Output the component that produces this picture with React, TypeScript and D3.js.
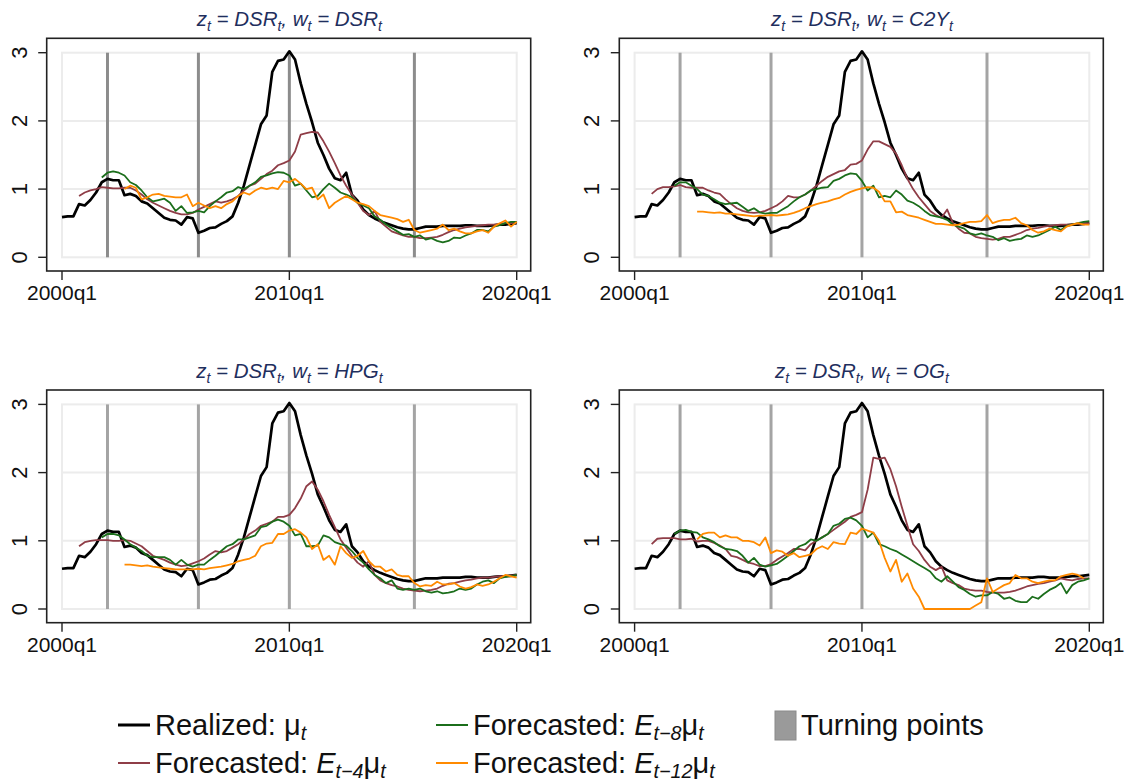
import React from "react";
import * as d3 from "d3";

// quarters 0..80 = 2000q1 .. 2020q1
const quarters = d3.range(0, 81);
const xTickQ = [0, 40, 80];
const xTickLabels = ["2000q1", "2010q1", "2020q1"];
const yTicks = [0, 1, 2, 3];
// 2002q1, 2006q1, 2010q1, 2015q3
const turningPoints = [8, 24, 40, 62];

const realized = [
  0.59, 0.6, 0.6, 0.78, 0.76, 0.84, 0.95, 1.1, 1.15, 1.13,
  1.13, 0.91, 0.93, 0.9, 0.82, 0.79, 0.72, 0.65, 0.58, 0.55,
  0.54, 0.48, 0.59, 0.57, 0.36, 0.39, 0.43, 0.44, 0.49, 0.53,
  0.6, 0.8, 1.05, 1.35, 1.65, 1.95, 2.08, 2.72, 2.88, 2.9,
  3.02, 2.9, 2.55, 2.25, 1.98, 1.68, 1.5, 1.3, 1.16, 1.13,
  1.24, 0.92, 0.83, 0.7, 0.62, 0.57, 0.53, 0.5, 0.47, 0.44,
  0.42, 0.41, 0.41, 0.43, 0.45, 0.45, 0.45, 0.46, 0.46, 0.46,
  0.46, 0.47, 0.47, 0.46, 0.46, 0.46, 0.47, 0.48, 0.48, 0.49, 0.5,
];

// first available quarter of each forecast horizon
const startH4 = 3;
const startH8 = 7;
const startH12 = 11;

// w = DSR
const dsrH4 = [
  0.9, 0.95, 0.98, 1.0, 1.03, 1.02, 1.01, 1.01, 1.02, 1.02,
  0.98, 0.92, 0.85, 0.8, 0.76, 0.72, 0.68, 0.65, 0.63, 0.63,
  0.65, 0.7, 0.74, 0.78, 0.82, 0.8, 0.82, 0.85, 0.9, 0.98,
  1.05, 1.08, 1.15, 1.22, 1.27, 1.35, 1.38, 1.42, 1.55, 1.8,
  1.82, 1.84, 1.83, 1.7, 1.55, 1.38, 1.2, 1.05, 0.92, 0.8,
  0.68, 0.62, 0.68, 0.52, 0.45, 0.38, 0.35, 0.32, 0.3, 0.3,
  0.28, 0.28, 0.29, 0.3, 0.33, 0.37, 0.4, 0.42, 0.44, 0.45,
  0.46, 0.47, 0.48, 0.48, 0.49, 0.5, 0.5, 0.51,
];
const dsrH8 = [
  1.17, 1.24, 1.26, 1.24, 1.2, 1.1, 1.06, 0.98, 0.88, 0.82,
  0.84, 0.86, 0.8, 0.68, 0.75, 0.65, 0.66, 0.68, 0.66, 0.75,
  0.82, 0.88, 0.95, 0.97, 1.03, 1.0, 1.05, 1.1, 1.18, 1.2,
  1.23, 1.25, 1.24, 1.2, 1.05, 1.08, 0.98, 0.88, 0.9, 1.0,
  1.08, 1.02, 0.95, 0.92, 0.88, 0.8, 0.76, 0.72, 0.6, 0.55,
  0.48, 0.43, 0.38, 0.33, 0.34, 0.3, 0.32, 0.26, 0.28, 0.24,
  0.22, 0.24, 0.29, 0.28, 0.32, 0.35, 0.4, 0.4, 0.38, 0.45,
  0.47, 0.5, 0.52, 0.52,
];
const dsrH12 = [
  1.0, 1.05, 1.02, 0.85, 0.88, 0.92, 0.93, 0.9, 0.89, 0.88,
  0.88, 0.92, 0.75, 0.8, 0.76, 0.72, 0.75, 0.72, 0.78, 0.82,
  0.9, 0.95, 0.92, 0.98, 1.02, 1.0, 1.02, 1.0, 1.12, 1.1,
  1.15, 1.08, 1.0, 1.02, 0.85, 0.92, 0.72, 0.8, 0.85, 0.9,
  0.85, 0.8, 0.78, 0.75, 0.68, 0.62, 0.6, 0.58, 0.56, 0.52,
  0.55, 0.4, 0.36, 0.38, 0.4, 0.42, 0.48, 0.4, 0.42, 0.38,
  0.35, 0.35, 0.38, 0.4, 0.36, 0.45, 0.5, 0.54, 0.45, 0.52,
];

// w = C2Y
const c2yH4 = [
  0.93, 1.0, 1.03, 1.03, 1.04, 1.06, 1.03, 1.02, 1.02, 1.02,
  0.98, 0.95, 0.93, 0.85, 0.78, 0.72, 0.68, 0.66, 0.65, 0.66,
  0.68, 0.72, 0.76, 0.82, 0.9, 0.88, 0.88, 0.92, 0.98, 1.05,
  1.12, 1.18, 1.22, 1.26, 1.28, 1.36, 1.37, 1.42, 1.58, 1.7,
  1.7, 1.66, 1.62, 1.52, 1.35, 1.15, 1.0, 0.88, 0.78, 0.68,
  0.62, 0.58, 0.7, 0.5, 0.42, 0.36, 0.35, 0.3, 0.28, 0.27,
  0.26, 0.27, 0.3, 0.3, 0.33, 0.36, 0.4, 0.42, 0.43, 0.45,
  0.46, 0.47, 0.48, 0.48, 0.48, 0.49, 0.5, 0.5,
];
const c2yH8 = [
  1.05, 1.1, 1.1, 1.05, 1.0, 0.92, 0.9, 0.85, 0.8, 0.78,
  0.79, 0.8, 0.74, 0.68, 0.72, 0.66, 0.64, 0.65, 0.65, 0.7,
  0.75, 0.82, 0.88, 0.92, 0.98, 1.0, 1.02, 1.03, 1.12, 1.15,
  1.2, 1.23, 1.22, 1.12, 0.98, 1.05, 0.88, 0.9, 0.88, 0.98,
  0.92, 0.83, 0.8, 0.75, 0.68, 0.62, 0.6, 0.58, 0.55, 0.48,
  0.45, 0.42, 0.35, 0.33, 0.35, 0.32, 0.3, 0.25, 0.28, 0.24,
  0.26, 0.27, 0.32, 0.3, 0.32, 0.36, 0.4, 0.45, 0.4, 0.46,
  0.48, 0.5, 0.52, 0.53,
];
const c2yH12 = [
  0.67, 0.67, 0.66, 0.65, 0.66, 0.64, 0.64, 0.63, 0.62, 0.61,
  0.6, 0.61, 0.61, 0.62, 0.61, 0.62, 0.63, 0.65, 0.68, 0.72,
  0.75, 0.78, 0.8, 0.82, 0.85, 0.87, 0.92, 0.96, 0.99, 1.01,
  1.03, 1.02, 0.96, 0.82, 0.82, 0.66, 0.67, 0.62, 0.6, 0.58,
  0.55, 0.52, 0.49, 0.49, 0.48, 0.47, 0.48, 0.5, 0.52, 0.52,
  0.53, 0.62, 0.5, 0.53, 0.55, 0.55, 0.58, 0.5, 0.47, 0.4,
  0.36, 0.38, 0.42, 0.4, 0.38, 0.45, 0.48, 0.5, 0.48, 0.48,
];

// w = HPG
const hpgH4 = [
  0.92, 0.98, 1.0, 1.01, 1.01, 1.01, 1.0, 1.0, 1.01, 1.0,
  0.96, 0.92, 0.85, 0.78, 0.75, 0.72, 0.68, 0.65, 0.63, 0.64,
  0.67, 0.7, 0.74, 0.8, 0.85, 0.83, 0.85, 0.9, 0.95, 1.02,
  1.1, 1.15, 1.22, 1.25, 1.28, 1.35, 1.35, 1.38, 1.48, 1.62,
  1.8, 1.87, 1.75, 1.58, 1.38, 1.2, 1.02, 0.9, 0.78, 0.68,
  0.62, 0.7, 0.5, 0.42, 0.38, 0.35, 0.33, 0.3, 0.28, 0.27,
  0.26, 0.27, 0.28, 0.3, 0.34, 0.37, 0.38, 0.4, 0.42, 0.43,
  0.45, 0.46, 0.46, 0.47, 0.48, 0.48, 0.49, 0.5,
];
const hpgH8 = [
  1.05, 1.1, 1.1, 1.08, 1.02, 0.95, 0.9, 0.85, 0.78, 0.76,
  0.76, 0.76, 0.72, 0.65, 0.72, 0.65, 0.62, 0.65, 0.65, 0.72,
  0.78, 0.85, 0.92, 0.95, 1.02, 1.02, 1.05, 1.08, 1.2, 1.22,
  1.28, 1.31, 1.28, 1.22, 1.08, 1.1, 0.92, 0.92, 0.93, 1.08,
  1.05, 0.98, 0.95, 0.93, 0.85, 0.75, 0.68, 0.58, 0.5, 0.45,
  0.38, 0.42, 0.3, 0.28, 0.3, 0.28, 0.3, 0.26, 0.24, 0.26,
  0.23, 0.24, 0.26, 0.3, 0.28, 0.3, 0.36, 0.4, 0.42, 0.38,
  0.45, 0.47, 0.48, 0.5,
];
const hpgH12 = [
  0.65, 0.65, 0.64, 0.63, 0.64, 0.62, 0.61, 0.6, 0.59, 0.58,
  0.58, 0.58, 0.58, 0.59, 0.58, 0.6, 0.61, 0.62, 0.64, 0.66,
  0.7, 0.72, 0.74, 0.78, 0.92, 0.96, 0.97, 1.1, 1.1, 1.15,
  1.17, 1.12, 1.05, 0.88, 0.95, 0.72, 0.78, 0.65, 0.92, 0.82,
  0.75, 0.78, 0.85, 0.7, 0.62, 0.62, 0.55, 0.58, 0.5, 0.48,
  0.48, 0.38, 0.33, 0.35, 0.34, 0.4, 0.36, 0.36, 0.38, 0.33,
  0.3, 0.32, 0.36, 0.34, 0.36, 0.4, 0.45, 0.5, 0.48, 0.46,
];

// w = OG
const ogH4 = [
  0.95, 1.03, 1.04, 1.04, 1.04, 1.02, 1.02, 1.03, 0.99, 1.0,
  1.0, 0.97, 0.93, 0.88, 0.78, 0.76, 0.72, 0.68, 0.66, 0.63,
  0.63, 0.66, 0.72, 0.77, 0.82, 0.88, 0.88, 0.86, 0.95, 1.0,
  1.05, 1.1, 1.16, 1.22, 1.28, 1.35, 1.38, 1.42, 1.75, 2.22,
  2.2, 2.22, 2.05, 1.8, 1.5, 1.22, 0.95, 0.85, 0.72, 0.62,
  0.57, 0.62, 0.42, 0.38, 0.35, 0.3, 0.28, 0.27, 0.27, 0.25,
  0.24, 0.24, 0.24, 0.25, 0.27, 0.3, 0.33, 0.35, 0.37, 0.38,
  0.4, 0.42, 0.45, 0.43, 0.42, 0.44, 0.45, 0.45,
];
const ogH8 = [
  1.1, 1.15, 1.16, 1.13, 1.12, 1.05, 1.02, 0.98, 0.92, 0.88,
  0.87, 0.85, 0.78, 0.68, 0.75, 0.65, 0.62, 0.64, 0.66, 0.72,
  0.78, 0.85, 0.92, 0.95, 1.02, 1.0, 1.05, 1.1, 1.22, 1.25,
  1.32, 1.34, 1.3, 1.22, 1.05, 1.12, 0.95, 0.92, 0.88, 0.85,
  0.8, 0.75, 0.7, 0.65, 0.6, 0.55, 0.45, 0.4, 0.48, 0.4,
  0.32, 0.28, 0.22, 0.18, 0.2, 0.2, 0.25, 0.22, 0.15, 0.17,
  0.12, 0.1, 0.1, 0.18, 0.15, 0.22, 0.28, 0.32, 0.38, 0.23,
  0.35, 0.4, 0.42, 0.45,
];
const ogH12 = [
  1.02, 1.1, 1.12, 1.12, 1.05, 1.08, 1.05, 1.05, 1.0, 1.0,
  0.98, 0.93, 1.05, 0.82, 0.86, 0.84, 0.78, 0.82, 0.76, 0.78,
  0.8, 0.88, 0.92, 0.88, 0.98, 0.96, 0.95, 1.12, 1.1, 1.18,
  1.15, 1.12, 1.0, 0.75, 0.55, 0.72, 0.4, 0.52, 0.3, 0.18,
  0.0, 0.0, 0.0, 0.0, 0.0, 0.0, 0.0, 0.0, 0.0, 0.05,
  0.1, 0.45, 0.25, 0.3, 0.35, 0.38, 0.5, 0.45, 0.45, 0.4,
  0.38, 0.4, 0.42, 0.42, 0.48, 0.5, 0.52, 0.5, 0.45,
];

const panels = [
  { w: "DSR", h4: dsrH4, h8: dsrH8, h12: dsrH12, tp: "#8c8c8c" },
  { w: "C2Y", h4: c2yH4, h8: c2yH8, h12: c2yH12, tp: "#a4a4a4" },
  { w: "HPG", h4: hpgH4, h8: hpgH8, h12: hpgH12, tp: "#a4a4a4" },
  { w: "OG", h4: ogH4, h8: ogH8, h12: ogH12, tp: "#a4a4a4" },
];

const colors = {
  realized: "#000000",
  h4: "#8f3d47",
  h8: "#1b6e1b",
  h12: "#ff8a00",
  title: "#1f2f5e",
  grid: "#ececec",
};

const font = "'Liberation Sans', Arial, Helvetica, sans-serif";

const frameW = 484;
const frameH = 232.7;
const frameLefts = [46.7, 619.3];
const frameTops = [38.3, 390];

const lead = (start: number, vals: number[]) =>
  quarters.map((q) => (q < start ? null : vals[q - start] ?? null));

// parts: [text, "n" | "i" | "s"]  (normal, italic, subscript italic)
type Part = [string, "n" | "i" | "s"];
const rich = (parts: Part[], shift: number) => {
  let prev = "n";
  return parts.map(([t, k], i) => {
    let dy = 0;
    if (k === "s" && prev !== "s") dy = shift;
    if (k !== "s" && prev === "s") dy = -shift;
    prev = k;
    return (
      <tspan
        key={i}
        dy={dy || undefined}
        fontStyle={k === "n" ? "normal" : "italic"}
        fontSize={k === "s" ? "0.68em" : undefined}
      >
        {t}
      </tspan>
    );
  });
};

const Panel = ({ idx }: { idx: number }) => {
  const p = panels[idx];
  const fx = frameLefts[idx % 2];
  const fy = frameTops[Math.floor(idx / 2)];
  const x = d3.scaleLinear().domain([0, 80]).range([fx + 15.3, fx + frameW - 14]);
  const y = d3.scaleLinear().domain([0, 3]).range([fy + 219, fy + 14.4]);
  const line = d3
    .line<number | null>()
    .defined((d) => d !== null)
    .x((_, i) => x(quarters[i]))
    .y((d) => y(d as number));

  const series = [
    { vals: realized.map((v) => v as number | null), c: colors.realized, w: 2.7 },
    { vals: lead(startH4, p.h4), c: colors.h4, w: 1.8 },
    { vals: lead(startH8, p.h8), c: colors.h8, w: 1.8 },
    { vals: lead(startH12, p.h12), c: colors.h12, w: 1.8 },
  ];

  const [x0, x1] = x.range();
  const [yb, yt] = y.range();
  const cx = (x0 + x1) / 2;

  const titleParts: Part[] = [
    ["z", "i"], ["t", "s"], [" = DSR", "i"], ["t", "s"], [", w", "i"], ["t", "s"],
    [" = " + p.w, "i"], ["t", "s"],
  ];

  return (
    <g>
      <text
        x={cx}
        y={fy - 12}
        textAnchor="middle"
        fontSize={20.5}
        fill={colors.title}
        fontFamily={font}
      >
        {rich(titleParts, 5)}
      </text>
      <rect x={fx} y={fy} width={frameW} height={frameH} fill="#fff" stroke="#222" strokeWidth={1.6} />
      <rect x={x0} y={yt} width={x1 - x0} height={yb - yt} fill="none" stroke={colors.grid} strokeWidth={2} />
      {yTicks.slice(1, 3).map((t) => (
        <line key={t} x1={x0} x2={x1} y1={y(t)} y2={y(t)} stroke={colors.grid} strokeWidth={2} />
      ))}
      {turningPoints.map((q) => (
        <line key={q} x1={x(q)} x2={x(q)} y1={yt} y2={yb} stroke={p.tp} strokeWidth={3} />
      ))}
      {series.map((s, i) => (
        <path
          key={i}
          d={line(s.vals) || ""}
          fill="none"
          stroke={s.c}
          strokeWidth={s.w}
          strokeLinejoin="round"
        />
      ))}
      {yTicks.map((t) => (
        <g key={t}>
          <line x1={fx - 8.5} x2={fx} y1={y(t)} y2={y(t)} stroke="#222" strokeWidth={1.4} />
          <text
            transform={`translate(${fx - 28},${y(t)}) rotate(-90)`}
            textAnchor="middle"
            dy="0.36em"
            fontSize={22}
            fontFamily={font}
            fill="#111"
          >
            {t}
          </text>
        </g>
      ))}
      {xTickQ.map((q, i) => (
        <g key={q}>
          <line x1={x(q)} x2={x(q)} y1={fy + frameH} y2={fy + frameH + 9} stroke="#222" strokeWidth={1.4} />
          <text
            x={x(q)}
            y={fy + frameH + 29}
            textAnchor="middle"
            fontSize={21}
            fontFamily={font}
            fill="#111"
          >
            {xTickLabels[i]}
          </text>
        </g>
      ))}
    </g>
  );
};

const Legend = () => {
  const fs = 29;
  const rows = [725, 763];
  const items = [
    { x: 118, y: rows[0], c: colors.realized, w: 3, parts: [["Realized: μ", "n"], ["t", "s"]] as Part[] },
    { x: 118, y: rows[1], c: colors.h4, w: 2, parts: [["Forecasted: ", "n"], ["E", "i"], ["t\u22124", "s"], ["μ", "n"], ["t", "s"]] as Part[] },
    { x: 436, y: rows[0], c: colors.h8, w: 2, parts: [["Forecasted: ", "n"], ["E", "i"], ["t\u22128", "s"], ["μ", "n"], ["t", "s"]] as Part[] },
    { x: 436, y: rows[1], c: colors.h12, w: 2, parts: [["Forecasted: ", "n"], ["E", "i"], ["t\u221212", "s"], ["μ", "n"], ["t", "s"]] as Part[] },
  ];
  return (
    <g fontFamily={font} fontSize={fs} fill="#111">
      {items.map((it, i) => (
        <g key={i}>
          <line x1={it.x} x2={it.x + 32} y1={it.y} y2={it.y} stroke={it.c} strokeWidth={it.w} />
          <text x={it.x + 37} y={it.y} dy="0.36em">
            {rich(it.parts, 5)}
          </text>
        </g>
      ))}
      <rect x={775} y={711} width={21} height={29} fill="#9a9a9a" stroke="#8a8a8a" strokeWidth={1} />
      <text x={801} y={725} dy="0.36em">
        Turning points
      </text>
    </g>
  );
};

export default function App() {
  return (
    <svg
      width={1128}
      height={784}
      style={{ position: "absolute", left: 0, top: 0, background: "#fff" }}
    >
      {panels.map((_, i) => (
        <Panel key={i} idx={i} />
      ))}
      <Legend />
    </svg>
  );
}
